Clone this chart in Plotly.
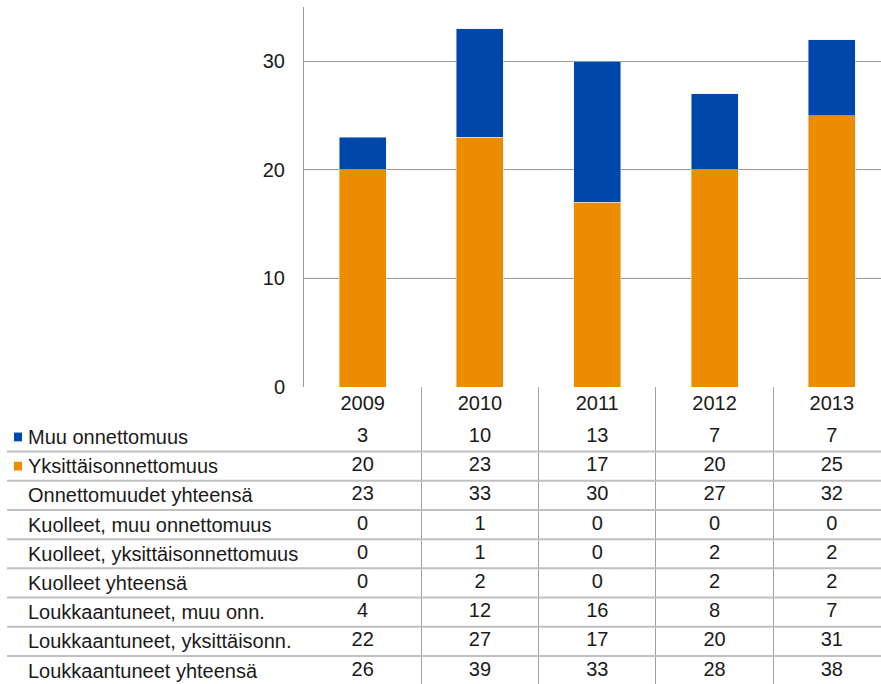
import plotly.graph_objects as go

years = ['2009', '2010', '2011', '2012', '2013']
muu_onnettomuus = [3, 10, 13, 7, 7]
yksittais = [20, 23, 17, 20, 25]
onnettomuudet_yht = [23, 33, 30, 27, 32]
kuolleet_muu = [0, 1, 0, 0, 0]
kuolleet_yks = [0, 1, 0, 2, 2]
kuolleet_yht = [0, 2, 0, 2, 2]
louk_muu = [4, 12, 16, 8, 7]
louk_yks = [22, 27, 17, 20, 31]
louk_yht = [26, 39, 33, 28, 38]

row_labels = ['Muu onnettomuus', 'Yksittäisonnettomuus', 'Onnettomuudet yhteensä',
              'Kuolleet, muu onnettomuus', 'Kuolleet, yksittäisonnettomuus',
              'Kuolleet yhteensä', 'Loukkaantuneet, muu onn.',
              'Loukkaantuneet, yksittäisonn.', 'Loukkaantuneet yhteensä']
row_values = [muu_onnettomuus, yksittais, onnettomuudet_yht, kuolleet_muu,
              kuolleet_yks, kuolleet_yht, louk_muu, louk_yks, louk_yht]

BLUE = '#0047AB'
ORANGE = '#EE8C00'
FONT = 'Liberation Sans, Arial, sans-serif'
FS = 20
TXT = '#1a1a1a'
W, H = 881, 684

fig = go.Figure()
fig.add_trace(go.Bar(x=years, y=yksittais, marker_color=ORANGE, width=0.4,
                     name='Yksittäisonnettomuus', showlegend=False))
fig.add_trace(go.Bar(x=years, y=muu_onnettomuus, marker_color=BLUE, width=0.4,
                     name='Muu onnettomuus', showlegend=False))

# table below the bars
idx = list(range(len(years)))
fig.add_trace(go.Scatter(x=idx, y=[-1.1] * len(years), text=years, mode='text',
                         textfont=dict(size=FS, color=TXT, family=FONT),
                         xaxis='x2', yaxis='y2', showlegend=False, hoverinfo='skip'))
for k, vals in enumerate(row_values):
    fig.add_trace(go.Scatter(x=idx, y=[k] * len(vals), text=[str(v) for v in vals],
                             mode='text', textfont=dict(size=FS, color=TXT, family=FONT),
                             xaxis='x2', yaxis='y2', showlegend=False, hoverinfo='skip'))
    fig.add_annotation(x=26 / W, y=k, xref='paper', yref='y2', text=row_labels[k],
                       xanchor='left', yanchor='middle', showarrow=False,
                       font=dict(size=FS, color=TXT, family=FONT))
    if k < len(row_values) - 1:
        fig.add_shape(type='line', xref='paper', yref='y2', x0=7 / W, x1=1,
                      y0=k + 0.5, y1=k + 0.5, line=dict(color='#c0c0c0', width=2))

# legend keys in the table
for k, c in [(0, BLUE), (1, ORANGE)]:
    fig.add_shape(type='rect', xref='paper', yref='y2', x0=14 / W, x1=22 / W,
                  y0=k - 0.15, y1=k + 0.15, fillcolor=c, line_width=0)

xr = [-0.5, 4.419]
fig.update_layout(
    width=W, height=H, margin=dict(l=0, r=0, t=0, b=0, autoexpand=False),
    plot_bgcolor='white', paper_bgcolor='white', barmode='stack', bargap=0.6,
    font=dict(family=FONT, size=FS, color=TXT),
    xaxis=dict(domain=[304 / W, 1], range=xr, showticklabels=False, showgrid=False,
               zeroline=False, anchor='y', automargin=False),
    yaxis=dict(domain=[297 / H, 677 / H], range=[0, 35], tickvals=[0, 10, 20, 30],
               showgrid=True, gridcolor='#999999', gridwidth=1, zeroline=False,
               showline=True, linecolor='#999999', linewidth=1, ticks='',
               ticklabelstandoff=14, tickfont=dict(size=FS, color=TXT), automargin=False),
    xaxis2=dict(domain=[304 / W, 1], range=xr, anchor='y2', showticklabels=False,
                tickvals=[0.5, 1.5, 2.5, 3.5], showgrid=True, gridcolor='#a0a0a0',
                gridwidth=1, zeroline=False, ticks='', automargin=False),
    yaxis2=dict(domain=[0, 297 / H], range=[8.46, -1.71], showgrid=False,
                showticklabels=False, zeroline=False, ticks='', automargin=False),
)

# drop the default page margin so the figure sits at the window corner
fig.write_html('out.html', config={'displayModeBar': False},
               post_script="document.body.style.margin='0';")
